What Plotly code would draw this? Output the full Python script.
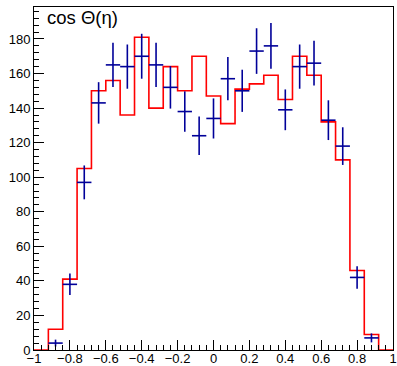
import plotly.graph_objects as go

# Bin edges of the histogram (25 bins, width 0.08)
bin_edges = [-1.0, -0.92, -0.84, -0.76, -0.68, -0.60, -0.52, -0.44, -0.36, -0.28,
             -0.20, -0.12, -0.04, 0.04, 0.12, 0.20, 0.28, 0.36, 0.44, 0.52,
             0.60, 0.68, 0.76, 0.84, 0.92, 1.0]

# Red histogram (simulation) contents per bin
sim_counts = [0, 12, 41, 105, 150, 156, 136, 181, 140, 164, 150, 170, 147,
              131, 151, 154, 159, 145, 170, 159, 132, 110, 46, 9, 0]

# Data points (blue crosses)
data_x = [-0.88, -0.80, -0.72, -0.64, -0.56, -0.48, -0.40, -0.32, -0.24, -0.16,
          -0.08, 0.0, 0.08, 0.16, 0.24, 0.32, 0.40, 0.48, 0.56, 0.64,
          0.72, 0.80, 0.88]
data_y = [4, 38, 97, 143, 165, 164, 170, 165, 152, 138,
          124, 134, 157, 150, 173, 176, 139, 164, 166, 133,
          118, 42, 7]
data_err = [2.0, 6.2, 9.8, 12.0, 12.8, 12.8, 13.0, 12.8, 12.3, 11.7,
            11.1, 11.6, 12.5, 12.2, 13.2, 13.3, 11.8, 12.8, 12.9, 11.5,
            10.9, 6.5, 2.6]
half_bin = 0.04

fig = go.Figure()

fig.add_trace(go.Scatter(
    x=bin_edges,
    y=sim_counts + [sim_counts[-1]],
    mode="lines",
    line=dict(color="#ff0000", width=1.6, shape="hv"),
    showlegend=False,
    hoverinfo="skip",
))

fig.add_trace(go.Scatter(
    x=data_x,
    y=data_y,
    mode="markers",
    marker=dict(size=0.1, color="#000099"),
    error_y=dict(type="data", array=data_err, color="#000099", thickness=1.6, width=0),
    error_x=dict(type="constant", value=half_bin, color="#000099", thickness=1.6, width=0),
    showlegend=False,
))

axis_font = dict(family="Liberation Sans, Arial, sans-serif", size=13, color="#000000")

fig.update_layout(
    width=397,
    height=366,
    margin=dict(l=34, r=4, t=7, b=16),
    paper_bgcolor="white",
    plot_bgcolor="white",
    xaxis=dict(
        range=[-1, 1],
        tick0=-1,
        dtick=0.2,
        ticks="inside",
        ticklen=10,
        tickwidth=1,
        tickcolor="black",
        showline=True,
        linecolor="black",
        linewidth=1,
        mirror=True,
        showgrid=False,
        zeroline=False,
        automargin=False,
        ticklabelstandoff=-4,
        tickfont=axis_font,
        minor=dict(dtick=0.04, tick0=-1, ticks="inside", ticklen=5, tickcolor="black", showgrid=False),
    ),
    yaxis=dict(
        range=[0, 198.5],
        tick0=0,
        dtick=20,
        ticks="inside",
        ticklen=10,
        tickwidth=1,
        tickcolor="black",
        showline=True,
        linecolor="black",
        linewidth=1,
        mirror=True,
        showgrid=False,
        zeroline=False,
        automargin=False,
        tickfont=axis_font,
        minor=dict(dtick=4, tick0=0, ticks="inside", ticklen=5, tickcolor="black", showgrid=False),
    ),
    annotations=[dict(
        text="cos \u0398(\u03b7)",
        xref="paper", yref="paper",
        x=0.032, y=0.968,
        xanchor="left", yanchor="middle",
        showarrow=False,
        font=dict(family="Liberation Sans, Arial, sans-serif", size=18.5, color="black"),
    )],
)

fig.write_html("out.html")
